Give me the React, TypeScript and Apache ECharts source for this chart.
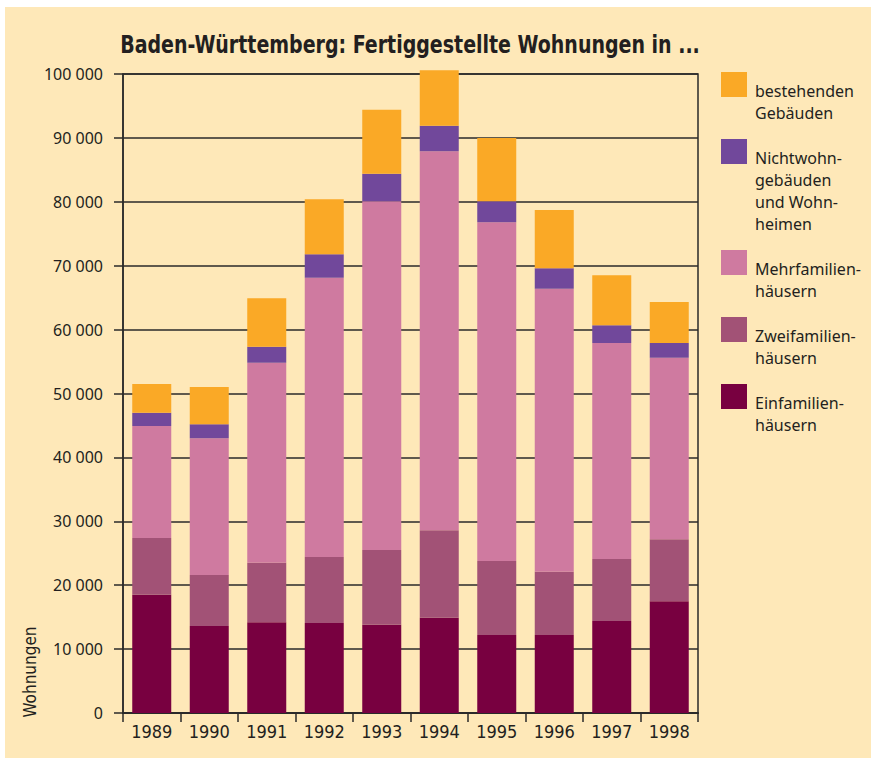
import React, { useEffect, useRef } from "react";
import * as echarts from "echarts";

const years = ["1989", "1990", "1991", "1992", "1993", "1994", "1995", "1996", "1997", "1998"];
const einfamilien = [18500, 13600, 14200, 14100, 13800, 14900, 12200, 12200, 14400, 17500];
const zweifamilien = [8900, 8000, 9300, 10300, 11700, 13700, 11600, 9900, 9700, 9700];
const mehrfamilien = [17500, 21400, 31300, 43700, 54600, 59300, 53000, 44300, 33800, 28400];
const nichtwohn = [2100, 2200, 2500, 3700, 4300, 4000, 3300, 3200, 2800, 2300];
const bestehend = [4500, 5800, 7600, 8600, 10000, 8700, 9900, 9100, 7800, 6400];

const seriesNames = [
  "Einfamilienhäusern",
  "Zweifamilienhäusern",
  "Mehrfamilienhäusern",
  "Nichtwohngebäuden und Wohnheimen",
  "bestehenden Gebäuden",
];
const seriesData = [einfamilien, zweifamilien, mehrfamilien, nichtwohn, bestehend];
const seriesColors = ["#780040", "#A25276", "#CF7AA0", "#71489B", "#FAA926"];

// Legend labels (top to bottom), as broken in the reference
const legendLabels = [
  "bestehenden\nGebäuden",
  "Nichtwohn-\ngebäuden\nund Wohn-\nheimen",
  "Mehrfamilien-\nhäusern",
  "Zweifamilien-\nhäusern",
  "Einfamilien-\nhäusern",
];
const legendColors = ["#FAA926", "#71489B", "#CF7AA0", "#A25276", "#780040"];

const titleText = "Baden-Württemberg: Fertiggestellte Wohnungen in ...";
const yAxisName = "Wohnungen";

const fmt = (v: number) => String(v).replace(/\B(?=(\d{3})+(?!\d))/g, " ");

const condensed = '"DejaVu Sans Condensed", "DejaVu Sans", sans-serif';

export default function App() {
  const ref = useRef<HTMLDivElement>(null);
  useEffect(() => {
    if (!ref.current) return;
    const chart = echarts.init(ref.current, undefined, { renderer: "svg" });

    const legendGraphics: any[] = [];
    let top = 72;
    const lh = 22;
    legendLabels.forEach((lab, i) => {
      const lines = lab.split("\n").length;
      legendGraphics.push({
        type: "rect",
        shape: { x: 721, y: top, width: 26, height: 25 },
        style: { fill: legendColors[i] },
      });
      legendGraphics.push({
        type: "text",
        x: 755,
        y: top + 8,
        style: {
          text: lab,
          fill: "#231f20",
          font: '16px "Noto Sans", sans-serif',
          lineHeight: lh,
          verticalAlign: "top",
          align: "left",
        },
      });
      top += lines * lh + 23;
    });

    chart.setOption({
      animation: false,
      backgroundColor: "#ffffff",
      grid: {
        left: 123,
        right: 173,
        top: 74,
        bottom: 45,
        show: true,
        borderColor: "#2a2a2a",
        borderWidth: 1.5,
        backgroundColor: "transparent",
      },
      graphic: [
        {
          type: "rect",
          z: -10,
          silent: true,
          shape: { x: 5, y: 7, width: 871, height: 758 },
          style: { fill: "#FEE8B8" },
        },
        {
          type: "text",
          x: 410,
          y: 44,
          scaleX: 0.845,
          style: {
            text: titleText,
            fill: "#231f20",
            font: "bold 25px " + condensed,
            align: "center",
            verticalAlign: "middle",
          },
        },
        {
          type: "text",
          x: 30,
          y: 672,
          rotation: Math.PI / 2,
          style: {
            text: yAxisName,
            fill: "#231f20",
            font: "17px " + condensed,
            align: "center",
            verticalAlign: "middle",
          },
        },
        ...legendGraphics,
      ],
      xAxis: {
        type: "category",
        data: years,
        boundaryGap: true,
        axisLine: { show: true, lineStyle: { color: "#2a2a2a", width: 2 } },
        axisTick: { show: true, length: 9, alignWithLabel: false, lineStyle: { color: "#2a2a2a", width: 1.5 } },
        axisLabel: {
          margin: 9,
          color: "#231f20",
          fontSize: 18,
          fontFamily: condensed,
        },
        splitLine: { show: false },
      },
      yAxis: {
        type: "value",
        min: 0,
        max: 100000,
        interval: 10000,
        axisLine: { show: true, lineStyle: { color: "#2a2a2a", width: 1.5 } },
        axisTick: { show: true, length: 9, lineStyle: { color: "#2a2a2a", width: 1.5 } },
        axisLabel: {
          margin: 20,
          color: "#231f20",
          fontSize: 16,
          fontFamily: '"Noto Sans", sans-serif',
          formatter: (v: number) => fmt(v),
        },
        splitLine: { show: true, lineStyle: { color: "#2a2a2a", width: 1.5 } },
      },
      series: seriesNames.map((name, i) => ({
        name,
        type: "bar",
        stack: "total",
        data: seriesData[i],
        barWidth: 39,
        clip: false,
        itemStyle: { color: seriesColors[i] },
        emphasis: { disabled: true },
      })),
    });
    return () => chart.dispose();
  }, []);
  return (
    <div
      ref={ref}
      style={{ position: "absolute", left: 0, top: 0, width: 871, height: 758 }}
    />
  );
}
